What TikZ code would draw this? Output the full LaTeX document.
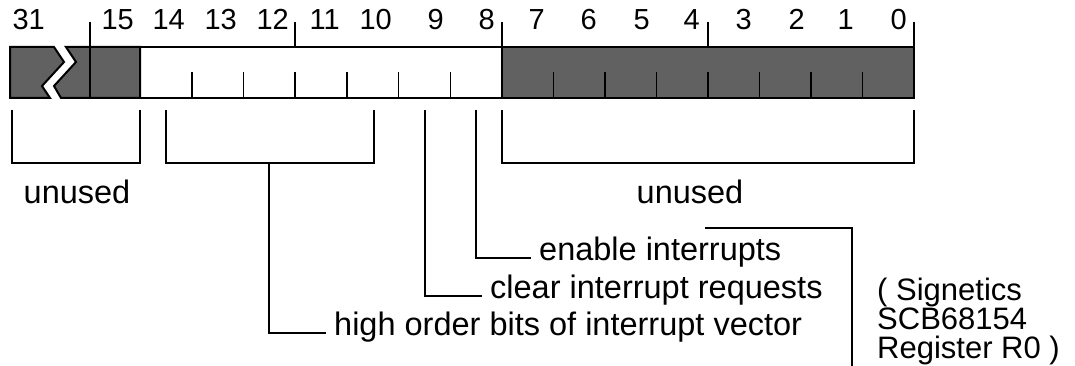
\documentclass[tikz,border=0pt]{standalone}
\usepackage{fontspec}
\setmainfont{Liberation Sans}
\begin{document}
\begin{tikzpicture}[x=1pt,y=-1pt,
  ln/.style={line width=2pt,line join=miter},
  tk/.style={line width=1.6pt},
  shade/.style={fill=black!62,draw=black,line width=2pt},
  num/.style={anchor=base east,inner sep=0pt,font=\fontsize{29}{30}\selectfont},
  lbl/.style={inner sep=0pt,font=\fontsize{32.5}{26.5}\selectfont},
  sig/.style={anchor=base west,inner sep=0pt,font=\fontsize{31}{28}\selectfont}]
\useasboundingbox (0,0) rectangle (1075,366);
% shaded pieces
\path[shade] (10,47) -- (54,47) -- (64,62) -- (42,86) -- (50,98) -- (10,98) -- cycle;
\path[shade] (66,47) -- (140,47) -- (140,98) -- (61,98) -- (54,86) -- (76,62) -- cycle;
\path[shade] (502,47) rectangle (914,98);
% white part outline
\draw[ln] (140,47) -- (502,47);
\draw[ln] (140,98) -- (502,98);
% tall ticks above bar
\draw[tk] (90,22) -- (90,98);
\draw[tk] (295.1,22) -- (295.1,47);
\draw[tk] (502,22) -- (502,47);
\draw[tk] (708,22) -- (708,47);
\draw[ln] (914,22) -- (914,47);
% lower-half ticks
\foreach \x in {191.7,243.4,295.1,346.9,398.6,450.3,553.5,605,656.5,708,759.5,811,862.5}
  \draw[tk] (\x,72) -- (\x,98);
% bit numbers
\node[num] (n31) at (45,30) {31};
\node[num] (n15) at (134,30) {15};
\node[num] (n14) at (185,30) {14};
\node[num] (n13) at (237,30) {13};
\node[num] (n12) at (289,30) {12};
\node[num] (n11) at (340,30) {11};
\node[num] (n10) at (392,30) {10};
\node[num] (n9) at (444,30) {9};
\node[num] (n8) at (495,30) {8};
\node[num] (n7) at (545,30) {7};
\node[num] (n6) at (597,30) {6};
\node[num] (n5) at (650,30) {5};
\node[num] (n4) at (700,30) {4};
\node[num] (n3) at (752,30) {3};
\node[num] (n2) at (805,30) {2};
\node[num] (n1) at (854,30) {1};
\node[num] (n0) at (907,30) {0};
% labels
\node[lbl] (u1) at (77,192) {unused};
\node[lbl] (u2) at (690,192) {unused};
\node[lbl,anchor=mid west] (en) at (539,258) {enable interrupts};
\node[lbl,anchor=mid west] (cl) at (490,296) {clear interrupt requests};
\node[lbl,anchor=mid west] (hi) at (334,333) {high order bits of interrupt vector};
\node[sig] (sig1) at (877,300) {( Signetics};
\node[sig] (sig2) at (877,329) {SCB68154};
\node[sig] (sig3) at (877,358) {Register R0 )};
% brackets
\coordinate (a1) at (12,110); \coordinate (a2) at (140,110);
\draw[ln] (a1) -- (12,163) -- (140,163) -- (a2);
\coordinate (b1) at (166,110); \coordinate (b2) at (374,110);
\draw[ln] (b1) -- (166,163) -- (374,163) -- (b2);
\coordinate (bs) at (269,163);
\draw[ln] (bs) -- (269,333) -- ([xshift=-8pt]hi.mid west);
\coordinate (c1) at (425,110);
\draw[ln] (c1) -- (425,296) -- ([xshift=-8pt]cl.mid west);
\coordinate (d1) at (476,110);
\draw[ln] (d1) -- (476,258) -- ([xshift=-8pt]en.mid west);
\coordinate (e1) at (502,110); \coordinate (e2) at (914,110);
\draw[ln] (e1) -- (502,163) -- (914,163) -- (e2);
\coordinate (f1) at (705,228); \coordinate (f2) at (852,366);
\draw[ln] (f1) -- (852,228) -- (f2);
\end{tikzpicture}
\end{document}
